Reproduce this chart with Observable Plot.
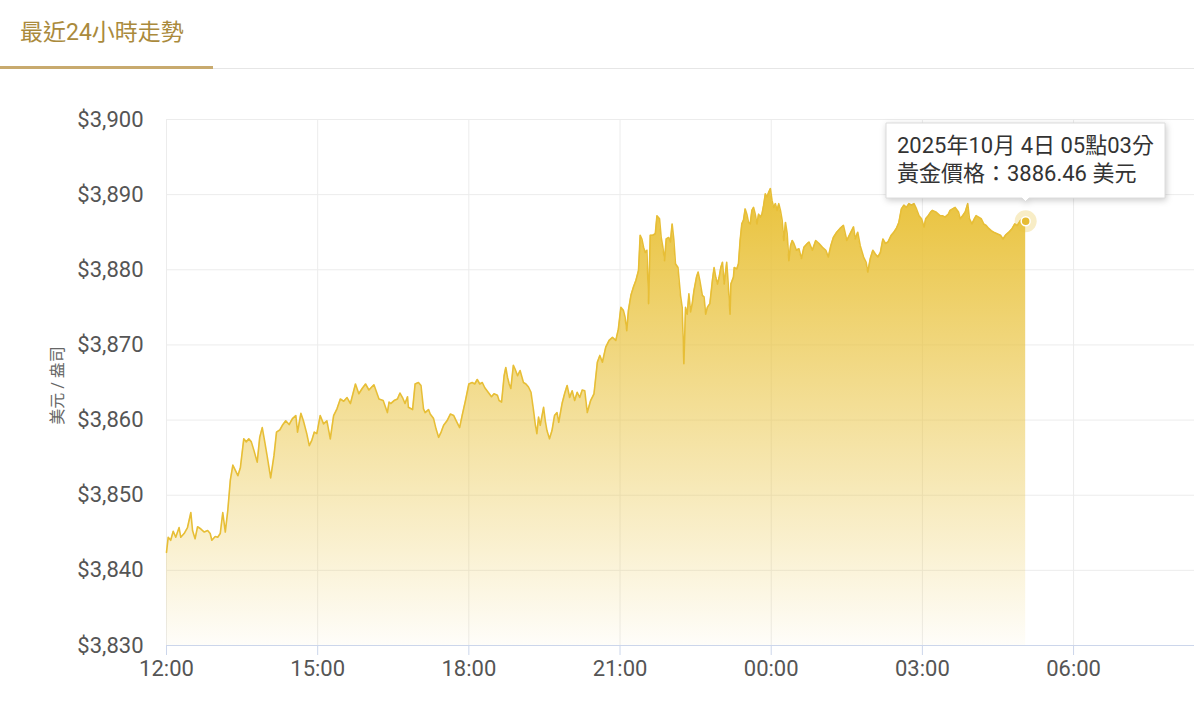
<!DOCTYPE html>
<html><head><meta charset="utf-8">
<script src="https://cdn.jsdelivr.net/npm/d3@7"></script>
<script src="https://cdn.jsdelivr.net/npm/@observablehq/plot@0.6"></script>
<style>
html,body{margin:0;padding:0;background:#fff;}
body{width:1194px;height:705px;position:relative;overflow:hidden;font-family:Roboto,"Noto Sans CJK TC",sans-serif;}
#tabbar{position:absolute;left:0;top:0;width:1194px;height:68px;border-bottom:1px solid #e6e6e6;}
#tab{position:absolute;left:0;top:0;width:213px;height:66px;border-bottom:3px solid #c8aa6e;}
#tab span{position:absolute;left:20px;top:17px;font-size:23px;color:#aa8a3c;line-height:32px;white-space:nowrap;}
#chart{position:absolute;left:0;top:70px;}
.goldtip path{filter:drop-shadow(1px 2px 3px rgba(0,0,0,0.2));}
</style>
</head><body>
<div id="tabbar"><div id="tab"><span>最近24小時走勢</span></div></div>
<div id="chart"></div>
<script>
const titleText = "最近24小時走勢";
const yAxisLabel = "美元 / 盎司";
const tipDate = "2025年10月 4日 05點03分";
const tipPrefix = "黃金價格：";
const tipUnit = "美元";
const startDay = "2025-10-03";
const nextDay = "2025-10-04";
const xDomainEnd = "08:24";
const yDomain = [3830, 3900];
const yTicks = [3830, 3840, 3850, 3860, 3870, 3880, 3890, 3900];

const times = [
"12:00","12:02","12:05","12:08","12:11","12:15","12:17","12:21","12:25","12:29","12:31","12:34","12:37","12:41","12:45","12:49","12:52","12:54","12:58",
"13:01","13:04","13:07","13:10","13:13","13:16","13:19","13:22","13:25","13:28","13:32","13:35","13:38","13:41","13:44","13:48","13:51","13:54","13:57",
"14:00","14:04","14:08","14:11","14:15","14:18","14:22","14:26","14:30","14:34","14:36","14:40","14:43","14:47","14:50","14:53","14:56","14:59",
"15:03","15:07","15:11","15:15","15:19","15:23","15:27","15:31","15:35","15:39","15:45","15:49","15:53","15:57",
"16:01","16:07","16:13","16:18","16:23","16:25","16:27","16:31","16:35","16:38","16:41","16:44","16:47","16:48","16:53","16:56",
"17:00","17:03","17:06","17:08","17:12","17:14","17:18","17:21","17:24","17:27","17:30","17:34","17:38","17:42","17:45","17:49","17:52","17:56",
"18:00","18:04","18:07","18:10","18:13","18:16","18:19","18:23","18:27","18:30","18:34","18:36","18:39","18:42","18:44","18:46","18:48","18:50","18:53","18:55","18:58",
"19:01","19:05","19:08","19:11","19:14","19:17","19:19","19:21","19:23","19:25","19:29","19:31","19:33","19:36","19:39","19:42","19:45","19:47","19:51","19:54","19:57",
"20:00","20:03","20:06","20:09","20:12","20:15","20:18","20:21","20:25","20:29","20:33","20:36","20:39","20:43","20:47","20:51","20:55","20:58",
"21:01","21:04","21:06","21:08","21:10","21:13","21:16","21:19","21:22","21:24","21:26","21:28","21:30","21:32","21:34","21:36","21:39","21:42","21:44","21:47","21:49","21:51","21:53","21:55","21:58",
"22:00","22:02","22:04","22:06","22:09","22:12","22:14","22:16","22:18","22:20","22:22","22:24","22:26","22:28","22:31","22:33","22:35","22:38","22:40","22:42","22:44","22:47","22:50","22:52","22:54","22:56","22:58",
"23:00","23:02","23:04","23:07","23:08","23:11","23:12","23:15","23:16","23:19","23:21","23:23","23:25","23:27","23:29","23:31","23:33","23:35","23:37","23:39","23:41","23:43","23:45","23:47","23:49","23:51","23:53","23:55","23:57","23:59",
"00:01","00:03","00:05","00:07","00:09","00:11","00:13","00:15","00:17","00:19","00:21","00:23","00:25","00:27","00:30","00:33","00:36","00:39","00:43","00:45","00:49","00:53","00:57",
"01:01","01:05","01:08","01:11","01:14","01:18","01:22","01:26","01:30","01:34","01:38","01:40","01:43","01:46","01:50","01:53","01:55","01:58",
"02:01","02:04","02:07","02:10","02:13","02:16","02:19","02:23","02:26","02:29","02:32","02:35","02:38","02:41","02:44","02:47","02:50","02:53","02:56","02:59",
"03:02","03:04","03:07","03:10","03:12","03:16","03:19","03:21","03:24","03:27","03:31","03:33","03:36","03:39","03:43","03:45","03:48","03:51","03:54","03:56","03:59",
"04:02","04:04","04:07","04:10","04:13","04:16","04:19","04:22","04:25","04:29","04:33","04:36","04:39","04:43","04:47","04:50","04:53","04:57",
"05:03"
];
const prices = [
3842.4,3844.4,3844.0,3845.2,3844.4,3845.7,3844.4,3844.9,3845.7,3847.7,3845.3,3844.2,3845.8,3845.5,3845.1,3845.3,3844.9,3844.0,3844.5,
3844.4,3844.9,3847.7,3845.1,3848.0,3852.0,3854.0,3853.3,3852.6,3853.7,3857.5,3857.1,3857.5,3857.1,3856.0,3854.4,3857.7,3859.0,3857.1,
3855.1,3852.3,3855.3,3858.4,3858.7,3859.3,3859.9,3859.4,3860.2,3860.6,3858.4,3860.9,3859.9,3858.2,3856.6,3857.3,3858.4,3858.2,
3860.6,3859.5,3859.9,3857.5,3860.6,3861.5,3862.8,3862.5,3863.0,3862.2,3864.8,3863.5,3864.2,3864.8,
3864.0,3864.7,3862.8,3862.6,3861.0,3862.4,3862.2,3862.6,3862.8,3863.6,3863.0,3862.2,3863.1,3861.7,3861.4,3864.8,
3865.0,3864.6,3861.5,3861.0,3861.4,3860.8,3860.2,3858.8,3857.7,3858.4,3859.3,3859.9,3860.8,3860.6,3859.9,3859.0,3860.6,3862.6,
3864.8,3865.0,3864.8,3865.4,3864.8,3865.0,3864.3,3863.7,3863.1,3863.5,3863.3,3862.6,3862.4,3865.9,3867.0,3865.7,3864.8,3864.2,3867.3,3866.8,3865.9,
3866.6,3865.0,3864.8,3864.4,3863.7,3861.3,3859.5,3858.2,3860.4,3859.3,3861.7,3859.9,3858.6,3857.5,3858.6,3860.6,3861.0,3859.7,3862.2,3863.5,3864.6,
3863.0,3863.9,3862.6,3863.7,3863.0,3864.0,3863.9,3861.0,3862.6,3863.5,3867.7,3868.6,3867.7,3869.7,3870.6,3871.0,3870.6,3872.1,
3875.0,3874.6,3873.7,3871.9,3874.6,3876.6,3877.7,3878.6,3879.9,3884.6,3884.1,3883.0,3882.3,3882.6,3875.5,3884.6,3884.6,3884.8,3887.2,3886.8,3884.3,3883.0,3881.2,3884.1,3884.3,
3883.7,3886.1,3884.1,3880.8,3880.3,3876.6,3875.0,3867.5,3875.0,3874.1,3876.8,3874.4,3875.5,3877.2,3879.0,3879.7,3878.6,3876.6,3876.4,3874.1,3875.0,3875.5,3878.6,3880.3,3879.0,3878.1,3879.0,
3880.3,3881.0,3878.1,3881.0,3879.5,3874.1,3878.1,3879.0,3880.3,3880.1,3880.8,3883.9,3886.1,3886.6,3888.1,3887.4,3886.3,3886.1,3887.9,3888.3,3887.4,3886.1,3887.4,3887.0,3887.4,3888.6,3890.1,3889.7,3890.3,3890.8,
3889.2,3888.3,3888.8,3887.9,3888.8,3887.9,3886.6,3883.9,3886.3,3884.8,3881.2,3883.2,3883.9,3883.5,3882.6,3882.8,3881.5,3883.0,3883.5,3883.7,3882.6,3883.9,3883.5,
3883.0,3882.6,3881.7,3883.2,3884.3,3885.0,3885.5,3885.9,3883.9,3884.8,3885.7,3884.1,3885.0,3883.2,3881.7,3881.0,3879.7,3881.5,
3882.6,3882.1,3881.7,3882.3,3884.1,3883.5,3883.7,3884.6,3885.0,3885.5,3886.3,3888.1,3888.6,3888.3,3888.8,3888.6,3888.8,3888.1,3887.2,3886.8,
3885.7,3886.8,3887.2,3887.7,3887.9,3887.7,3887.4,3887.2,3887.2,3887.0,3887.4,3887.9,3888.1,3888.3,3887.7,3886.8,3887.2,3887.7,3888.8,3886.8,3886.1,
3886.8,3887.2,3887.0,3886.8,3886.1,3885.9,3885.5,3885.2,3885.0,3884.8,3884.6,3884.1,3884.6,3885.0,3885.5,3886.1,3885.9,3886.6,
3886.46
];

const parseTime = d3.timeParse("%Y-%m-%d %H:%M");
let rolled = false, prevHour = -1;
const data = times.map((t, i) => {
  const h = +t.slice(0, 2);
  if (h < prevHour) rolled = true;
  prevHour = h;
  return {t: parseTime((rolled ? nextDay : startDay) + " " + t), p: prices[i]};
});
const last = data[data.length - 1];
const xDomain = [parseTime(startDay + " " + times[0]), parseTime(nextDay + " " + xDomainEnd)];
const tipText = tipDate + "\n" + tipPrefix + last.p.toFixed(2) + " " + tipUnit;
const fontStack = 'Roboto, "Noto Sans CJK TC", sans-serif';

const gradientDefs = () => {
  const defs = d3.create("svg:defs");
  const g = defs.append("linearGradient").attr("id", "goldFill")
    .attr("x1", 0).attr("y1", 0).attr("x2", 0).attr("y2", 1);
  g.append("stop").attr("offset", "0").attr("stop-color", "#e9c23b").attr("stop-opacity", 1);
  g.append("stop").attr("offset", "1").attr("stop-color", "#e9c23b").attr("stop-opacity", 0.03);
  return defs.node();
};

const chart = Plot.plot({
  width: 1194,
  height: 635,
  marginLeft: 166,
  marginRight: 0,
  marginTop: 49,
  marginBottom: 60,
  style: {fontFamily: fontStack, background: "transparent", color: "#333", overflow: "visible"},
  x: {type: "time", domain: xDomain},
  y: {domain: yDomain},
  marks: [
    gradientDefs,
    Plot.gridY(yTicks, {stroke: "#ececec", strokeOpacity: 1}),
    Plot.gridX({ticks: d3.timeHour.every(3), stroke: "#ececec", strokeOpacity: 1}),
    Plot.areaY(data, {x: "t", y1: yDomain[0], y2: "p", fill: "url(#goldFill)"}),
    Plot.lineY(data, {x: "t", y: "p", stroke: "#e7be36", strokeWidth: 1.6}),
    Plot.ruleY([yDomain[0]], {stroke: "#ccd6eb", strokeWidth: 1}),
    Plot.axisX({ticks: d3.timeHour.every(3), tickFormat: d3.timeFormat("%H:%M"), tickSize: 10, tickPadding: 5,
      fontSize: 22, stroke: "#ccd6eb", fill: "#555", label: null}),
    Plot.axisY(yTicks, {tickFormat: d3.format("$,"), tickSize: 0, tickPadding: 23, fontSize: 22, fill: "#555", label: null}),
    Plot.text([yAxisLabel], {frameAnchor: "left", textAnchor: "middle", rotate: -90, dx: -109, dy: 3, fontSize: 16, fill: "#666"}),
    Plot.dot([last], {x: "t", y: "p", r: 11, fill: "#e9c241", fillOpacity: 0.3}),
    Plot.dot([last], {x: "t", y: "p", r: 4.5, fill: "#e6bc34", stroke: "white", strokeWidth: 1.5}),
    Plot.tip([last], {x: "t", y: "p", title: () => tipText, anchor: "bottom", dy: -20, pointerSize: 7,
      fontSize: 22, lineHeight: 1.27, textPadding: 11, fill: "white", stroke: "#dcdcdc", className: "goldtip"})
  ]
});
document.getElementById("chart").appendChild(chart);
</script>
</body></html>
